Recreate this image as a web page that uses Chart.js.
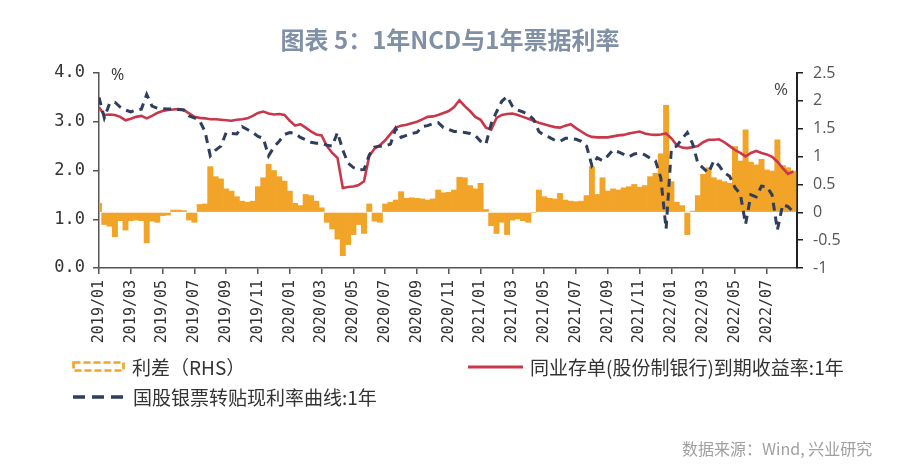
<!DOCTYPE html>
<html><head><meta charset="utf-8">
<script src="https://cdn.jsdelivr.net/npm/chart.js@4.4.1/dist/chart.umd.min.js"></script>
<style>
body{margin:0;background:#fff;}
#wrap{position:relative;width:900px;height:468px;overflow:hidden;font-family:"Noto Sans CJK SC","Noto Sans",sans-serif;background:#fff;}
#c{position:absolute;left:0;top:0;}
.t{position:absolute;white-space:nowrap;}
</style></head><body>
<div id="wrap">
<canvas id="c" width="900" height="468"></canvas>
<div class="t" style="left:0;width:900px;top:27px;line-height:24px;text-align:center;font-size:24px;font-weight:700;color:#8090a6;">图表 5：1年NCD与1年票据利率</div>
<div class="t" style="left:111px;top:66px;line-height:16px;font-size:16px;color:#333;font-family:'Open Sans';">%</div>
<div class="t" style="left:774px;top:80px;line-height:17px;font-size:17px;color:#444;font-family:'Open Sans';">%</div>
<svg style="position:absolute;left:72px;top:361px" width="54" height="12"><rect x="1.5" y="1.5" width="50" height="8" fill="none" stroke="#f2a428" stroke-width="2.6" stroke-dasharray="7 3"/></svg>
<div class="t" style="left:132px;top:357px;line-height:19px;font-size:19px;color:#333;">利差（RHS）</div>
<svg style="position:absolute;left:468px;top:364px" width="56" height="6"><line x1="0" y1="3" x2="55" y2="3" stroke="#c8374a" stroke-width="3.2"/></svg>
<div class="t" style="left:530px;top:357px;line-height:19px;font-size:19px;color:#333;">同业存单(股份制银行)到期收益率:1年</div>
<svg style="position:absolute;left:73px;top:394px" width="52" height="6"><line x1="0" y1="3" x2="52" y2="3" stroke="#2f3e5c" stroke-width="3.5" stroke-dasharray="12 7"/></svg>
<div class="t" style="left:133px;top:387px;line-height:19px;font-size:19px;color:#333;">国股银票转贴现利率曲线:1年</div>
<div class="t" style="left:682px;top:440px;line-height:16px;font-size:16px;color:#a0a0a0;">数据来源：Wind, 兴业研究</div>
</div>
<script>
const dates = [
'2019-01-01','2019-01-11','2019-01-21','2019-02-01','2019-02-11','2019-02-21','2019-03-01','2019-03-11','2019-03-21',
'2019-04-01','2019-04-11','2019-04-21','2019-05-01','2019-05-11','2019-05-21','2019-06-01','2019-06-11','2019-06-21',
'2019-07-01','2019-07-11','2019-07-21','2019-08-01','2019-08-11','2019-08-21','2019-09-01','2019-09-11','2019-09-21',
'2019-10-01','2019-10-11','2019-10-21','2019-11-01','2019-11-11','2019-11-21','2019-12-01','2019-12-11','2019-12-21',
'2020-01-01','2020-01-11','2020-01-21','2020-02-01','2020-02-11','2020-02-21','2020-03-01','2020-03-11','2020-03-21',
'2020-04-01','2020-04-11','2020-04-21','2020-05-01','2020-05-11','2020-05-21','2020-06-01','2020-06-11','2020-06-21',
'2020-07-01','2020-07-11','2020-07-21','2020-08-01','2020-08-11','2020-08-21','2020-09-01','2020-09-11','2020-09-21',
'2020-10-01','2020-10-11','2020-10-21','2020-11-01','2020-11-11','2020-11-21','2020-12-01','2020-12-11','2020-12-21',
'2021-01-01','2021-01-11','2021-01-21','2021-02-01','2021-02-11','2021-02-21','2021-03-01','2021-03-11','2021-03-21',
'2021-04-01','2021-04-11','2021-04-21','2021-05-01','2021-05-11','2021-05-21','2021-06-01','2021-06-11','2021-06-21',
'2021-07-01','2021-07-11','2021-07-21','2021-08-01','2021-08-11','2021-08-21','2021-09-01','2021-09-11','2021-09-21',
'2021-10-01','2021-10-11','2021-10-21','2021-11-01','2021-11-11','2021-11-21','2021-12-01','2021-12-11','2021-12-21',
'2022-01-01','2022-01-11','2022-01-21','2022-02-01','2022-02-11','2022-02-21','2022-03-01','2022-03-11','2022-03-21',
'2022-04-01','2022-04-11','2022-04-21','2022-05-01','2022-05-11','2022-05-21','2022-06-01','2022-06-11','2022-06-21',
'2022-07-01','2022-07-11','2022-07-21','2022-08-01','2022-08-11','2022-08-21'
];
const tickLabels = ['2019/01','2019/03','2019/05','2019/07','2019/09','2019/11','2020/01','2020/03','2020/05','2020/07','2020/09',
'2020/11','2021/01','2021/03','2021/05','2021/07','2021/09','2021/11','2022/01','2022/03','2022/05','2022/07'];
const leftTicks = [0,1,2,3,4];
const rightTicks = [-1,-0.5,0,0.5,1,1.5,2,2.5];

// 同业存单(股份制银行)到期收益率:1年
const ncd = [
3.30,3.14,3.15, 3.14,3.10,3.03, 3.06,3.10,3.12, 3.07,3.12,3.18, 3.22,3.24,3.25, 3.26,3.24,3.17,
3.10,3.08,3.07, 3.05,3.05,3.04, 3.03,3.02,3.04, 3.05,3.07,3.12, 3.18,3.21,3.17, 3.15,3.16,3.14,
3.02,2.92,2.95, 2.88,2.80,2.74, 2.72,2.50,2.36, 2.26,1.64,1.66, 1.67,1.70,1.78, 2.30,2.45,2.52,
2.62,2.75,2.88, 2.92,2.94,2.97, 3.00,3.05,3.10, 3.11,3.14,3.18, 3.22,3.30,3.44, 3.32,3.22,3.10,
3.04,2.88,2.84, 3.08,3.14,3.16, 3.17,3.14,3.10, 3.06,3.02,2.98, 2.95,2.92,2.89, 2.88,2.92,2.95,
2.87,2.80,2.73, 2.69,2.68,2.68, 2.68,2.70,2.72, 2.73,2.76,2.78, 2.80,2.76,2.74, 2.73,2.74,2.76,
2.66,2.52,2.47, 2.46,2.48,2.50, 2.58,2.63,2.63, 2.64,2.58,2.50, 2.42,2.36,2.29, 2.36,2.40,2.36,
2.33,2.28,2.18, 2.05,1.93,1.98
];
// 国股银票转贴现利率曲线:1年
const bill = [
3.50,3.08,3.38, 3.40,3.30,3.24, 3.20,3.24,3.26, 3.56,3.32,3.28, 3.27,3.26,3.26, 3.25,3.24,3.12,
3.08,3.02,2.80, 2.30,2.42,2.50, 2.78,2.76,2.75, 2.90,2.84,2.78, 2.70,2.66,2.30, 2.48,2.60,2.74,
2.78,2.76,2.68, 2.63,2.58,2.56, 2.56,2.52,2.50, 2.78,2.42,2.15, 2.06,2.01,2.02, 2.32,2.48,2.50,
2.50,2.54,2.86, 2.68,2.72,2.76, 2.78,2.90,2.92, 2.96,2.98,2.88, 2.84,2.80,2.80, 2.78,2.76,2.72,
2.60,2.54,2.96, 3.20,3.42,3.52, 3.32,3.24,3.20, 3.15,3.05,2.80, 2.72,2.68,2.62, 2.60,2.66,2.66,
2.64,2.60,2.50, 2.10,2.26,2.20, 2.30,2.42,2.38, 2.33,2.28,2.34, 2.36,2.32,2.25, 2.20,1.85,0.80,
2.45,2.50,2.65, 2.78,2.55,2.15, 2.05,1.95,2.20, 2.10,1.95,1.88, 1.65,1.52,0.90, 1.50,1.46,1.68,
1.67,1.50,0.78, 1.30,1.26,1.15
];
// 利差 (RHS)
const spread = [
0.16,-0.22,-0.25, -0.44,-0.15,-0.32, -0.15,-0.14,-0.15, -0.55,-0.16,-0.18, -0.06,-0.05,0.04, 0.04,0.03,-0.14,
-0.18,0.14,0.15, 0.82,0.64,0.60, 0.42,0.38,0.28, 0.20,0.18,0.20, 0.46,0.62,0.86, 0.75,0.64,0.56,
0.38,0.16,0.12, 0.32,0.30,0.20, 0.08,-0.18,-0.30, -0.48,-0.78,-0.58, -0.40,-0.22,-0.38, 0.15,-0.16,-0.18,
0.15,0.18,0.22, 0.37,0.25,0.26, 0.25,0.24,0.22, 0.24,0.40,0.35, 0.36,0.40,0.63, 0.62,0.48,0.42,
0.52,0.05,-0.24, -0.38,-0.18,-0.40, -0.14,-0.12,-0.15, -0.18,0.00,0.40, 0.28,0.25,0.24, 0.34,0.22,0.20,
0.19,0.20,0.30, 0.82,0.32,0.62, 0.38,0.42,0.40, 0.44,0.46,0.50, 0.45,0.48,0.64, 0.70,1.05,1.92,
0.55,0.18,0.12, -0.40,0.02,0.30, 0.68,0.80,0.62, 0.58,0.55,0.52, 1.18,0.92,1.48, 0.90,0.85,0.95,
0.76,0.74,1.30, 0.84,0.80,0.74
];

function monthPos(s){const p=s.split('-').map(Number);return (p[0]-2019)*12+(p[1]-1)+(p[2]-1)/30;}
const xs = dates.map(monthPos);
const pts = arr => arr.map((v,i)=>({x:xs[i],y:v}));

const axisGrid = (c,w)=>({display:true,drawOnChartArea:false,drawTicks:true,tickLength:6,color:c,lineWidth:w,offset:false});

new Chart(document.getElementById('c').getContext('2d'),{
  type:'line',
  data:{datasets:[
    {type:'bar',label:'利差（RHS）',data:pts(spread),yAxisID:'y2',backgroundColor:'#f2a428',
     barPercentage:1,categoryPercentage:1,borderWidth:0,order:3},
    {label:'同业存单(股份制银行)到期收益率:1年',data:pts(ncd),yAxisID:'y',borderColor:'#c8374a',
     borderWidth:2.6,pointRadius:0,tension:0,fill:false,order:2},
    {label:'国股银票转贴现利率曲线:1年',data:pts(bill),yAxisID:'y',borderColor:'#2f3e5c',
     borderWidth:3,borderDash:[8,6],pointRadius:0,tension:0,fill:false,order:1}
  ]},
  options:{
    responsive:false,animation:false,devicePixelRatio:1,
    layout:{padding:{top:73,left:0,right:0,bottom:0}},
    plugins:{legend:{display:false},tooltip:{enabled:false},title:{display:false}},
    scales:{
      x:{type:'linear',min:0,max:43.9,offset:false,
        grid:axisGrid('#555',1.5),
        border:{display:true,color:'#555',width:1.5},
        ticks:{autoSkip:false,minRotation:90,maxRotation:90,padding:6,color:'#333',
          font:{family:'DejaVu Sans Mono',size:15},
          callback:(v)=>tickLabels[Math.round(v/2)]},
        afterBuildTicks:s=>{s.ticks=tickLabels.map((_,i)=>({value:i*2}));},
        afterFit:s=>{s.height=200;}
      },
      y:{type:'linear',position:'left',min:0,max:4,
        grid:axisGrid('#555',1.5),
        border:{display:true,color:'#555',width:1.5},
        ticks:{padding:8,color:'#333',font:{family:'DejaVu Sans Mono',size:17},callback:v=>Number(v).toFixed(1)},
        afterBuildTicks:s=>{s.ticks=leftTicks.map(v=>({value:v}));},
        afterFit:s=>{s.width=99;}
      },
      y2:{type:'linear',position:'right',min:-1,max:2.5,
        grid:axisGrid('#222',1.5),
        border:{display:true,color:'#222',width:2},
        ticks:{padding:10,color:'#555',font:{family:'Open Sans',size:16},callback:v=>String(Math.round(v*10)/10)},
        afterBuildTicks:s=>{s.ticks=rightTicks.map(v=>({value:v}));},
        afterFit:s=>{s.width=103;}
      }
    }
  }
});
</script>
</body></html>
